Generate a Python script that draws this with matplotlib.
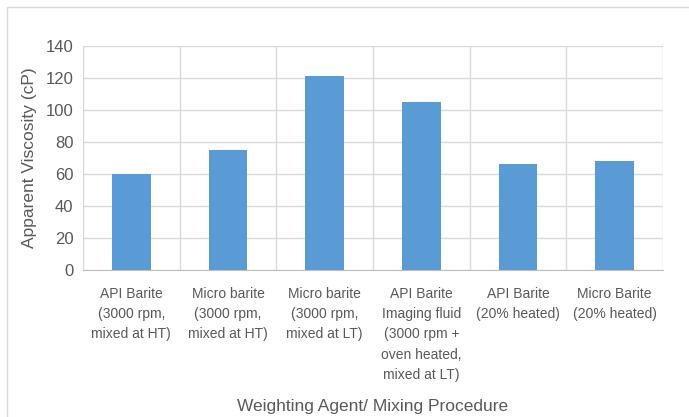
import numpy as np
import matplotlib
matplotlib.use("Agg")
import matplotlib.pyplot as plt
from matplotlib.patches import Rectangle

# Data
categories = [
    "API Barite\n(3000 rpm,\nmixed at HT)",
    "Micro barite\n(3000 rpm,\nmixed at HT)",
    "Micro barite\n(3000 rpm,\nmixed at LT)",
    "API Barite\nImaging fluid\n(3000 rpm +\noven heated,\nmixed at LT)",
    "API Barite\n(20% heated)",
    "Micro Barite\n(20% heated)",
]
viscosity = [60, 75, 121, 105, 66, 68]
y_ticks = [0, 20, 40, 60, 80, 100, 120, 140]

plt.rcParams['font.family'] = ['Liberation Sans', 'DejaVu Sans']
text_col = '#595959'
grid_col = '#d9d9d9'

fig = plt.figure(figsize=(6.89, 4.17), dpi=100)
ax = fig.add_axes([83 / 689, 1 - 270 / 417, (663 - 83) / 689, (270 - 46) / 417])

x = np.arange(len(categories))
ax.bar(x, viscosity, width=0.4, color='#5b9bd5', zorder=3)

ax.set_xlim(-0.5, len(categories) - 0.5)
ax.set_ylim(0, 140)
ax.set_yticks(y_ticks)
ax.set_xticks(x)
ax.set_xticklabels(categories, fontsize=10, color=text_col, linespacing=1.58, va='top')
ax.tick_params(axis='y', labelsize=12, labelcolor=text_col, length=0, pad=7)
ax.tick_params(axis='x', length=0, pad=12)

# horizontal gridlines and vertical category separators
ax.set_xticks(np.arange(-0.5, len(categories), 1.0), minor=True)
ax.tick_params(axis='x', which='minor', length=0)
ax.grid(axis='y', color=grid_col, linewidth=1.0, zorder=0)
ax.grid(axis='x', which='minor', color=grid_col, linewidth=1.0, zorder=0)
ax.grid(axis='x', which='major', visible=False)

for s in ['top', 'right']:
    ax.spines[s].set_visible(False)
ax.spines['left'].set_color(grid_col)
ax.spines['bottom'].set_color('#bfbfbf')

ax.set_ylabel('Apparent Viscosity (cP)', fontsize=12.5, color=text_col, labelpad=6)
fig.text(373 / 689, 1 - 406 / 417, 'Weighting Agent/ Mixing Procedure',
         fontsize=12.5, color=text_col, ha='center', va='center')

# chart area border
fig.patches.append(Rectangle((7 / 689, -0.01), 0.995, 1 - 7 / 417 + 0.01,
                             transform=fig.transFigure, fill=False,
                             edgecolor=grid_col, linewidth=1.0))

fig.savefig('out.png', dpi=100)
